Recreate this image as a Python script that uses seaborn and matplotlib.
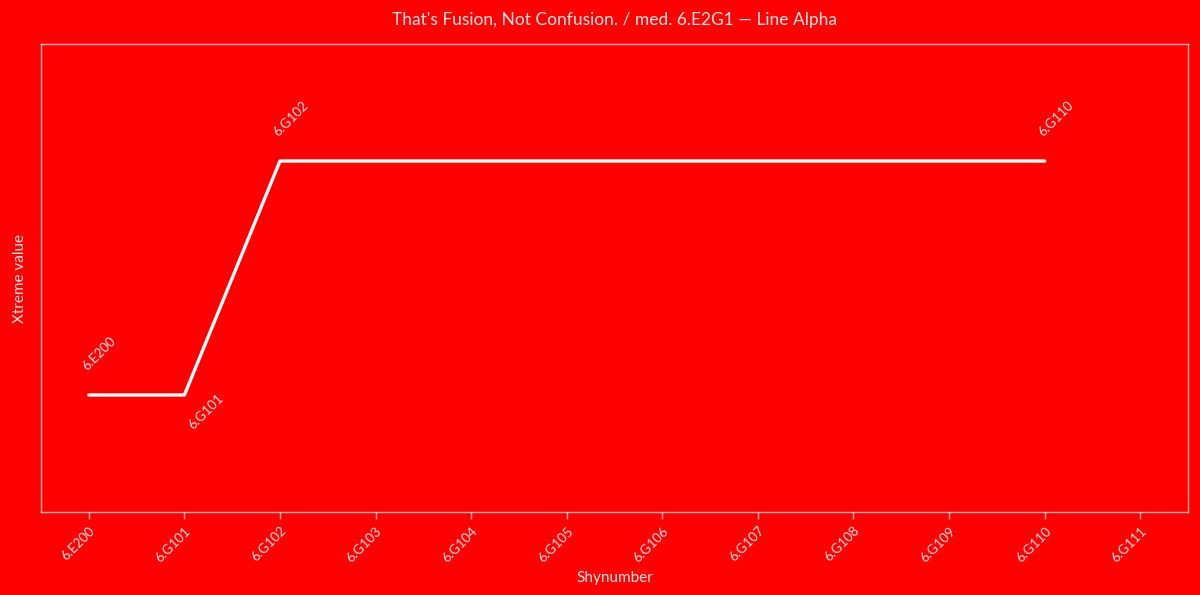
import matplotlib
matplotlib.use("Agg")
import matplotlib.pyplot as plt
import seaborn as sns
import pandas as pd

categories = ["6.E200", "6.G101", "6.G102", "6.G103", "6.G104", "6.G105",
              "6.G106", "6.G107", "6.G108", "6.G109", "6.G110", "6.G111"]
point_labels = ["6.E200", "6.G101", "6.G102", "6.G110"]
point_values = [1, 1, 2, 2]
label_side = ["above", "below", "above", "above"]

title = "That's Fusion, Not Confusion. / med. 6.E2G1 \u2014 Line Alpha"
xlabel = "Shynumber"
ylabel = "Xtreme value"

sns.set_theme(style="white")
plt.rcParams["font.family"] = ["Lato", "DejaVu Sans"]

bg = "#ff0000"
fig = plt.figure(figsize=(12, 5.95), dpi=100, facecolor=bg)
ax = fig.add_axes([0.0342, 0.1395, 0.9558, 0.7865])
ax.set_facecolor(bg)

df = pd.DataFrame({
    "x": [categories.index(c) for c in point_labels],
    "y": point_values,
    "label": point_labels,
})
sns.lineplot(data=df, x="x", y="y", ax=ax, color="white", linewidth=2.4,
             sort=False)

for i, r in df.iterrows():
    side = label_side[i]
    if side == "above":
        ax.annotate(r["label"], (r["x"], r["y"]), xytext=(-6, 16),
                    textcoords="offset points", rotation=45,
                    ha="left", va="bottom", fontsize=9.5,
                    color=(1, 1, 1, 0.9))
    else:
        ax.annotate(r["label"], (r["x"], r["y"]), xytext=(1, 2),
                    textcoords="offset points", rotation=45,
                    ha="left", va="top", fontsize=9.5,
                    color=(1, 1, 1, 0.9))

ax.set_xlim(-0.5, len(categories) - 0.5)
ax.set_ylim(0.5, 2.5)
ax.set_xticks(range(len(categories)))
ax.set_xticklabels(categories, rotation=45, ha="right", rotation_mode="anchor",
                   fontsize=9.5, color=(1, 1, 1, 0.9))
ax.set_yticks([])
ax.tick_params(axis="x", bottom=True, length=5, width=1,
               color=(1, 1, 1, 0.7), pad=4)
for s in ax.spines.values():
    s.set_color((1, 1, 1, 0.7))
    s.set_linewidth(1)

ax.set_xlabel(xlabel, fontsize=11, color=(1, 1, 1, 0.9), labelpad=5)
ax.set_ylabel(ylabel, fontsize=11, color=(1, 1, 1, 0.9), labelpad=10)
ax.set_title(title, fontsize=12.5, color=(1, 1, 1, 0.9), pad=14)

fig.savefig("out.png", facecolor=bg, dpi=100)
